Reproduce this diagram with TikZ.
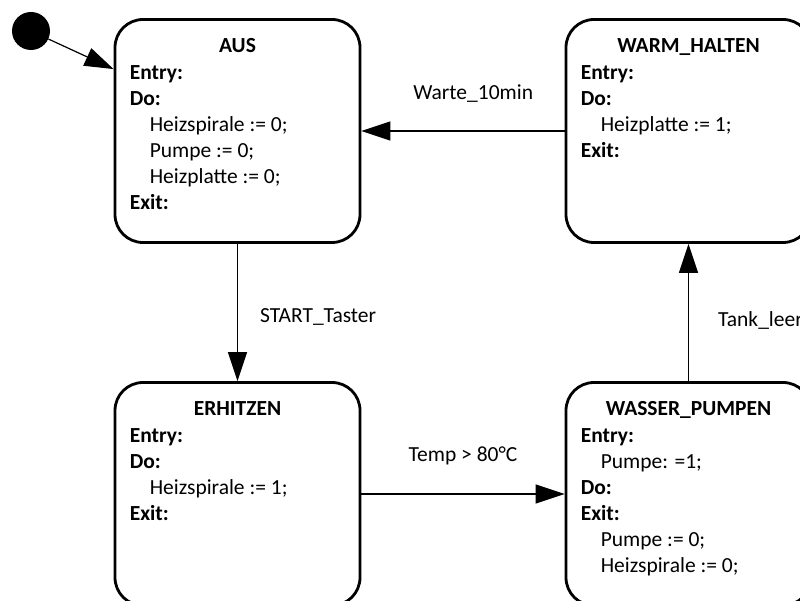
\documentclass[tikz,border=0pt]{standalone}
\usepackage{fontspec}
\setmainfont{Carlito}
\usetikzlibrary{arrows.meta,calc}
\newcommand{\ind}{\hspace*{20pt}}
\begin{document}
\begin{tikzpicture}[x=1pt,y=-1pt,
  state/.style={draw, line width=2.8pt, rounded corners=28pt, minimum width=245pt, minimum height=223pt, inner sep=0pt},
  ttl/.style={anchor=base, font=\fontsize{21.5}{26}\selectfont\bfseries, inner sep=0pt},
  body/.style={anchor=base west, font=\fontsize{21.5}{26}\selectfont, inner sep=0pt},
  lbl/.style={font=\fontsize{21.5}{26}\selectfont, inner sep=0pt},
  arr/.style={-{Triangle[length=29pt,width=19pt]}, line width=1.2pt}]
\path[use as bounding box] (0,0) rectangle (800,601);
\clip (0,0) rectangle (800,601);

% states
\node[state] (aus) at (237.5,131) {};
\node[state] (warm) at (688.5,131) {};
\node[state] (erh) at (237.5,494) {};
\node[state] (wasser) at (688.5,494) {};

% titles
\node[ttl] (ausT) at ($(aus.north)+(0,34)$) {AUS};
\node[ttl] (warmT) at ($(warm.north)+(0,34)$) {WARM\_HALTEN};
\node[ttl] (erhT) at ($(erh.north)+(0,34)$) {ERHITZEN};
\node[ttl] (wasserT) at ($(wasser.north)+(0,34)$) {WASSER\_PUMPEN};

% bodies
\node[body] (ausB) at ($(aus.north west)+(16,61)$) {\begin{tabular}[t]{@{}l@{}}
\textbf{Entry:}\\ \textbf{Do:}\\ \ind Heizspirale := 0;\\ \ind Pumpe := 0;\\ \ind Heizplatte := 0;\\ \textbf{Exit:}\end{tabular}};
\node[body] (warmB) at ($(warm.north west)+(16,61)$) {\begin{tabular}[t]{@{}l@{}}
\textbf{Entry:}\\ \textbf{Do:}\\ \ind Heizplatte := 1;\\ \textbf{Exit:}\end{tabular}};
\node[body] (erhB) at ($(erh.north west)+(16,61)$) {\begin{tabular}[t]{@{}l@{}}
\textbf{Entry:}\\ \textbf{Do:}\\ \ind Heizspirale := 1;\\ \textbf{Exit:}\end{tabular}};
\node[body] (wasserB) at ($(wasser.north west)+(16,61)$) {\begin{tabular}[t]{@{}l@{}}
\textbf{Entry:}\\ \ind Pumpe: =1;\\ \textbf{Do:}\\ \textbf{Exit:}\\ \ind Pumpe := 0;\\ \ind Heizspirale := 0;\end{tabular}};

% initial state
\node[circle, fill=black, minimum size=38pt, inner sep=0pt] (init) at (31,31) {};
\coordinate (ausIn) at ($(aus.north west)+(0,51)$);
\draw[arr] (init) -- (ausIn);

% transitions
\draw[arr] (aus.south) -- node[lbl, pos=0.571, anchor=base west, xshift=22pt] (l1) {START\_Taster} (erh.north);
\draw[arr] (erh.east) -- node[lbl, pos=0.5, anchor=base, yshift=33pt] (l2) {Temp > 80°C} (wasser.west);
\draw[arr] (wasser.north) -- node[lbl, pos=0.4, anchor=base west, xshift=29pt] (l3) {Tank\_leer} (warm.south);
\draw[arr] (warm.west) -- node[lbl, pos=0.45, anchor=base, yshift=31pt] (l4) {Warte\_10min} (aus.east);
\end{tikzpicture}
\end{document}
